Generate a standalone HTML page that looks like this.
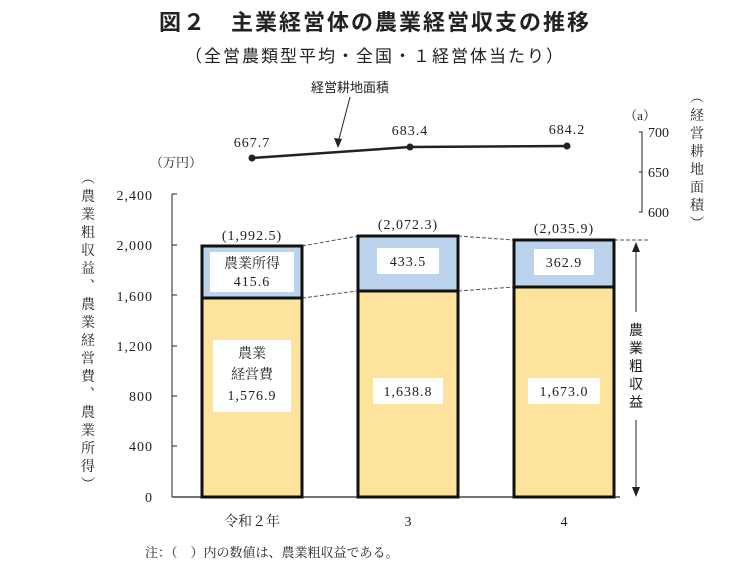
<!DOCTYPE html>
<html><head><meta charset="utf-8"><style>
body{margin:0;background:#fff;}
svg text{font-family:"Liberation Serif","Noto Serif CJK SC","Noto Sans CJK JP",serif;fill:#222;}
.g{font-family:"Liberation Sans","Noto Sans CJK JP",sans-serif !important;}
.n{letter-spacing:1px;}
</style></head><body>
<svg width="750" height="573" viewBox="0 0 750 573" xmlns="http://www.w3.org/2000/svg">
<text x="375" y="30" text-anchor="middle" font-size="22" font-weight="bold" class="g" letter-spacing="2">図２　主業経営体の農業経営収支の推移</text>
<text x="375" y="62" text-anchor="middle" font-size="17" class="g" letter-spacing="2">（全営農類型平均・全国・１経営体当たり）</text>
<text x="350" y="92" text-anchor="middle" font-size="13" class="g">経営耕地面積</text>
<line x1="350" y1="97" x2="338" y2="143" stroke="#222" stroke-width="1"/>
<polygon points="338,148 334,138 342,139" fill="#222"/>
<polyline points="252,158 410,147 567,146" fill="none" stroke="#222" stroke-width="2.5"/>
<circle cx="252" cy="158" r="3.5" fill="#222"/><circle cx="410" cy="147" r="3.5" fill="#222"/><circle cx="567" cy="146" r="3.5" fill="#222"/>
<g class="g n" font-size="14" text-anchor="middle">
<text x="252" y="147">667.7</text><text x="410" y="135">683.4</text><text x="567" y="134">684.2</text></g>
<text x="640" y="120" text-anchor="middle" font-size="13">（a）</text>
<polyline points="639,132 642,132 642,212 639,212" fill="none" stroke="#222"/>
<line x1="639" y1="172" x2="642" y2="172" stroke="#222"/>
<text x="648" y="137" font-size="14">700</text>
<text x="648" y="177" font-size="14">650</text>
<text x="648" y="217" font-size="14">600</text>
<text font-size="14" text-anchor="middle"><tspan x="697" y="102">︵</tspan><tspan x="697" y="120">経</tspan><tspan x="697" y="138">営</tspan><tspan x="697" y="156">耕</tspan><tspan x="697" y="174">地</tspan><tspan x="697" y="192">面</tspan><tspan x="697" y="210">積</tspan><tspan x="697" y="228">︶</tspan></text>
<text x="150" y="167" font-size="13">（万円）</text>
<line x1="172" y1="194" x2="172" y2="497" stroke="#222"/>
<line x1="172" y1="497" x2="620" y2="497" stroke="#222" stroke-width="1.2"/>
<g stroke="#222"><line x1="172" y1="194" x2="177" y2="194"/><line x1="172" y1="245" x2="177" y2="245"/><line x1="172" y1="295" x2="177" y2="295"/><line x1="172" y1="346" x2="177" y2="346"/><line x1="172" y1="396" x2="177" y2="396"/><line x1="172" y1="446" x2="177" y2="446"/></g>
<g font-size="14" text-anchor="end" class="n"><text x="153" y="200">2,400</text><text x="153" y="250">2,000</text><text x="153" y="301">1,600</text><text x="153" y="351">1,200</text><text x="153" y="401">800</text><text x="153" y="451">400</text><text x="153" y="502">0</text></g>
<text font-size="14" text-anchor="middle"><tspan x="88" y="183">︵</tspan><tspan x="88" y="201">農</tspan><tspan x="88" y="219">業</tspan><tspan x="88" y="237">粗</tspan><tspan x="88" y="255">収</tspan><tspan x="88" y="273">益</tspan><tspan x="88" y="291">︑</tspan><tspan x="88" y="309">農</tspan><tspan x="88" y="327">業</tspan><tspan x="88" y="345">経</tspan><tspan x="88" y="363">営</tspan><tspan x="88" y="381">費</tspan><tspan x="88" y="399">︑</tspan><tspan x="88" y="417">農</tspan><tspan x="88" y="435">業</tspan><tspan x="88" y="453">所</tspan><tspan x="88" y="471">得</tspan><tspan x="88" y="489">︶</tspan></text>
<g stroke="#555" stroke-dasharray="4,2" stroke-width="1"><line x1="302" y1="246" x2="358" y2="236"/><line x1="302" y1="298" x2="358" y2="291"/><line x1="458" y1="236" x2="514" y2="240"/><line x1="458" y1="291" x2="514" y2="287"/><line x1="614" y1="240" x2="650" y2="240"/></g>
<g stroke="#111" stroke-width="3">
<rect x="202" y="298" width="100" height="199" fill="#fde39b"/><rect x="202" y="246" width="100" height="52" fill="#bcd3ee"/>
<rect x="358" y="291" width="100" height="206" fill="#fde39b"/><rect x="358" y="236" width="100" height="55" fill="#bcd3ee"/>
<rect x="514" y="287" width="100" height="210" fill="#fde39b"/><rect x="514" y="240" width="100" height="47" fill="#bcd3ee"/>
</g>
<rect x="210" y="252" width="84" height="40" fill="#fff"/>
<rect x="213" y="340" width="78" height="72" fill="#fff"/>
<rect x="377" y="248" width="62" height="26" fill="#fff"/>
<rect x="373" y="378" width="70" height="26" fill="#fff"/>
<rect x="534" y="249" width="60" height="26" fill="#fff"/>
<rect x="528" y="378" width="72" height="26" fill="#fff"/>
<g font-size="14" text-anchor="middle" class="g">
<text x="252" y="268">農業所得</text><text x="252" y="286" class="n">415.6</text>
<text x="252" y="358">農業</text><text x="252" y="379">経営費</text><text x="252" y="400" class="n">1,576.9</text>
<text x="408" y="266" class="n">433.5</text><text x="408" y="396" class="n">1,638.8</text>
<text x="564" y="267" class="n">362.9</text><text x="564" y="396" class="n">1,673.0</text>
<text x="252" y="240" class="n">(1,992.5)</text><text x="408" y="229" class="n">(2,072.3)</text><text x="564" y="233" class="n">(2,035.9)</text>
<text x="252" y="526">令和２年</text><text x="408" y="526">3</text><text x="564" y="526">4</text>
</g>
<line x1="636" y1="248" x2="636" y2="312" stroke="#222"/><polygon points="636,242 632,252 640,252" fill="#222"/>
<line x1="636" y1="420" x2="636" y2="490" stroke="#222"/><polygon points="636,497 632,487 640,487" fill="#222"/>
<text font-size="14" text-anchor="middle" class="g"><tspan x="636" y="335">農</tspan><tspan x="636" y="353">業</tspan><tspan x="636" y="371">粗</tspan><tspan x="636" y="389">収</tspan><tspan x="636" y="407">益</tspan></text>
<text x="145" y="557" font-size="13">注：（　）内の数値は、農業粗収益である。</text>
</svg>
</body></html>
